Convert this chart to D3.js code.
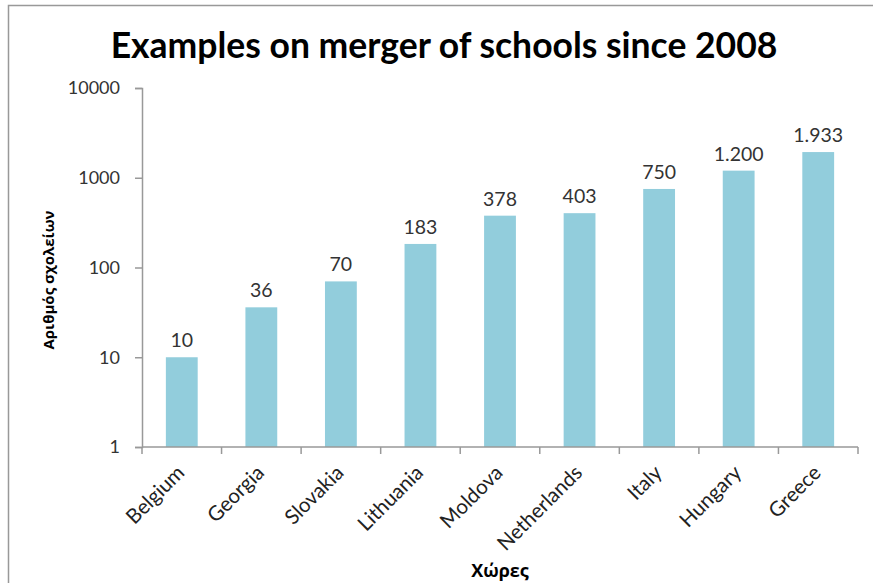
<!DOCTYPE html>
<html>
<head>
<meta charset="utf-8">
<script src="https://cdn.jsdelivr.net/npm/d3@7"></script>
<style>
  body { margin: 0; background: #fff; }
  svg { display: block; font-family: Lato, "Open Sans", sans-serif; }
</style>
</head>
<body>
<svg id="chart"></svg>
<script>
// Data
const countries = ["Belgium", "Georgia", "Slovakia", "Lithuania", "Moldova", "Netherlands", "Italy", "Hungary", "Greece"];
const schools = [10, 36, 70, 183, 378, 403, 750, 1200, 1933];
const yTicks = [1, 10, 100, 1000, 10000];

const W = 873, H = 583;
const margin = {top: 88, right: 15, bottom: 136, left: 142};
const width = W - margin.left - margin.right;
const height = H - margin.top - margin.bottom;

// Greek style thousands separator: 1.200
const fmt = d3.formatLocale({decimal: ",", thousands: ".", grouping: [3], currency: ["", "€"]}).format(",");

const svg = d3.select("#chart").attr("width", W).attr("height", H);

// outer chart border
svg.append("rect")
    .attr("x", 8.5).attr("y", 5.5)
    .attr("width", W + 10).attr("height", H + 10)
    .attr("fill", "none").attr("stroke", "#999").attr("stroke-width", 1.5);

svg.append("text")
    .attr("x", 444).attr("y", 58)
    .attr("text-anchor", "middle")
    .attr("font-size", 35.5).attr("font-weight", "bold").attr("fill", "#000")
    .text("Examples on merger of schools since 2008");

const g = svg.append("g").attr("transform", `translate(${margin.left},${margin.top})`);

const x = d3.scaleBand().domain(countries).range([0, width]).paddingInner(0.6).paddingOuter(0.3);
const y = d3.scaleLog().domain([1, 10000]).range([height, 0]);

// bars
g.selectAll("rect.bar")
    .data(countries)
    .join("rect")
    .attr("class", "bar")
    .attr("x", d => x(d))
    .attr("width", x.bandwidth())
    .attr("y", (d, i) => y(schools[i]))
    .attr("height", (d, i) => height - y(schools[i]))
    .attr("fill", "#92CDDC");

// value labels
g.selectAll("text.val")
    .data(countries)
    .join("text")
    .attr("class", "val")
    .attr("x", d => x(d) + x.bandwidth() / 2)
    .attr("y", (d, i) => y(schools[i]) - 10)
    .attr("text-anchor", "middle")
    .attr("font-size", 19.5).attr("fill", "#333")
    .text((d, i) => fmt(schools[i]));

// y axis
const yAxis = g.append("g")
    .call(d3.axisLeft(y).tickValues(yTicks).tickFormat(d3.format("d")).tickSize(7).tickPadding(15));
yAxis.select(".domain").attr("stroke", "#999").attr("stroke-width", 1.5);
yAxis.selectAll(".tick line").attr("stroke", "#999").attr("stroke-width", 1.5);
yAxis.selectAll(".tick text").attr("font-size", 18).attr("fill", "#333")
    .attr("font-family", "Lato, 'Open Sans', sans-serif");

// x axis: ticks between categories
const step = x.step();
const xAxis = g.append("g").attr("transform", `translate(0,${height})`);
xAxis.append("line")
    .attr("x1", 0).attr("x2", width)
    .attr("stroke", "#999").attr("stroke-width", 1.5);
xAxis.selectAll("line.tk")
    .data(d3.range(countries.length + 1))
    .join("line")
    .attr("class", "tk")
    .attr("x1", i => i * step).attr("x2", i => i * step)
    .attr("y1", 0).attr("y2", 7)
    .attr("stroke", "#999").attr("stroke-width", 1.5);
xAxis.selectAll("text.lab")
    .data(countries)
    .join("text")
    .attr("class", "lab")
    .attr("transform", d => `translate(${x(d) + x.bandwidth() / 2 + 4},${27}) rotate(-45)`)
    .attr("text-anchor", "end")
    .attr("font-size", 20.5).attr("fill", "#222")
    .text(d => d);

// axis titles (Greek text, Open Sans has the glyphs)
svg.append("text")
    .attr("x", margin.left + width / 2).attr("y", 577)
    .attr("text-anchor", "middle")
    .attr("font-family", "'Open Sans', sans-serif")
    .attr("font-size", 18).attr("font-weight", "bold").attr("fill", "#000")
    .text("Χώρες");

svg.append("text")
    .attr("transform", `translate(54,${280}) rotate(-90)`)
    .attr("text-anchor", "middle")
    .attr("font-family", "'Open Sans', sans-serif")
    .attr("font-size", 15).attr("font-weight", "bold").attr("fill", "#000")
    .text("Αριθμός σχολείων");
</script>
</body>
</html>
